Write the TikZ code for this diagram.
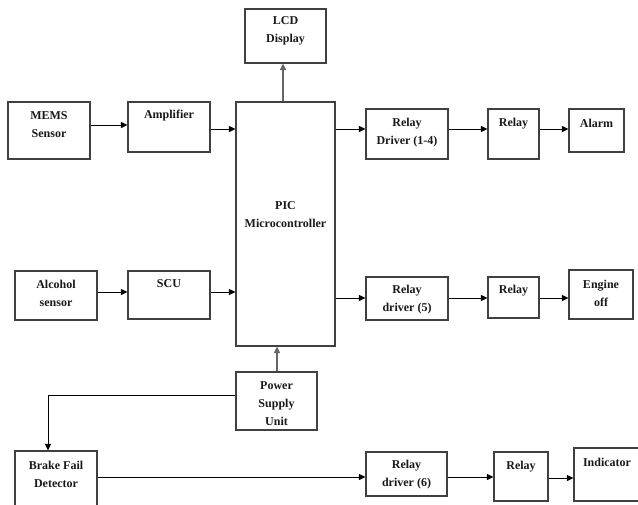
\documentclass[tikz,border=0pt]{standalone}
\usepackage{fontspec}
\setmainfont{Liberation Serif}
\usetikzlibrary{arrows.meta}
\tikzset{
  blk/.style={draw=black!75, line width=1.1pt, rectangle, inner sep=0pt},
  txt/.style={font=\fontsize{12}{18}\selectfont\bfseries, align=center, inner sep=0pt, text=black!90},
  arr/.style={draw=black, line width=0.9pt, -{Triangle[length=6.5pt,width=6pt]}},
  garr/.style={draw=black!60, line width=1.3pt, -{Triangle[length=6.5pt,width=6pt]}, shorten <=0.5pt},
  ln/.style={draw=black, line width=0.9pt}
}
\begin{document}
\begin{tikzpicture}[x=1pt,y=-1pt]
\useasboundingbox (0,0) rectangle (638,504);
\clip (0,0) rectangle (638,504);
\fill[white] (0,0) rectangle (638,504);
% boxes
\node[blk, minimum width=81pt, minimum height=54pt] (lcd) at (285.5,36) {};
\node[blk, minimum width=82pt, minimum height=57pt] (mems) at (49,130.5) {};
\node[blk, minimum width=82pt, minimum height=50pt] (amp) at (169,127) {};
\node[blk, minimum width=99pt, minimum height=244pt] (pic) at (285.5,224) {};
\node[blk, minimum width=82pt, minimum height=50pt] (rd14) at (407,134) {};
\node[blk, minimum width=51pt, minimum height=50pt] (rel1) at (513.5,134) {};
\node[blk, minimum width=55pt, minimum height=43pt] (alarm) at (596.5,130.5) {};
\node[blk, minimum width=82pt, minimum height=49pt] (alc) at (56,295.5) {};
\node[blk, minimum width=82pt, minimum height=48pt] (scu) at (169,295) {};
\node[blk, minimum width=82pt, minimum height=43pt] (rd5) at (407,298.5) {};
\node[blk, minimum width=51pt, minimum height=41pt] (rel2) at (513.5,297.5) {};
\node[blk, minimum width=64pt, minimum height=49pt] (eng) at (601,294.5) {};
\node[blk, minimum width=81pt, minimum height=58pt] (psu) at (276.5,401) {};
\node[blk, minimum width=82pt, minimum height=64pt] (brake) at (56,483) {};
\node[blk, minimum width=81pt, minimum height=44pt] (rd6) at (406.5,474) {};
\node[blk, minimum width=54pt, minimum height=49pt] (rel3) at (521,476.5) {};
\node[blk, minimum width=76pt, minimum height=53pt] (ind) at (612,474.5) {};
% texts
\node[txt] (lcdT) at (285.5,31) {LCD\\Display};
\node[txt] (memsT) at (49,124.5) {MEMS\\Sensor};
\node[txt] (ampT) at (169,115.5) {Amplifier};
\node[txt] (picT) at (285.5,215) {PIC\\Microcontroller};
\node[txt] (rd14T) at (407,132.5) {Relay\\Driver (1-4)};
\node[txt] (rel1T) at (513.5,123.5) {Relay};
\node[txt] (alarmT) at (596.5,123.5) {Alarm};
\node[txt] (alcT) at (56,293) {Alcohol\\sensor};
\node[txt] (scuT) at (169,283.5) {SCU};
\node[txt] (rd5T) at (407,300) {Relay\\driver (5)};
\node[txt] (rel2T) at (513.5,290.5) {Relay};
\node[txt] (engT) at (601,293) {Engine\\off};
\node[txt] (psuT) at (276.5,403.5) {Power\\Supply\\Unit};
\node[txt] (brakeT) at (56,474.5) {Brake Fail\\Detector};
\node[txt] (rd6T) at (406.5,474.5) {Relay\\driver (6)};
\node[txt] (rel3T) at (521,466.5) {Relay};
\node[txt] (indT) at (607,462.5) {Indicator};
% connectors
\draw[arr] (mems.east |- 0,125) -- (amp.west |- 0,125);
\draw[arr] (amp.east |- 0,129) -- (pic.west |- 0,129);
\draw[garr] (pic.north -| 283,0) -- (lcd.south -| 283,0);
\draw[arr] (pic.east |- 0,129) -- (rd14.west |- 0,129);
\draw[arr] (rd14.east |- 0,129) -- (rel1.west |- 0,129);
\draw[arr] (rel1.east |- 0,129) -- (alarm.west |- 0,129);
\draw[arr] (alc.east |- 0,292) -- (scu.west |- 0,292);
\draw[arr] (scu.east |- 0,292) -- (pic.west |- 0,292);
\draw[arr] (pic.east |- 0,298) -- (rd5.west |- 0,298);
\draw[arr] (rd5.east |- 0,298) -- (rel2.west |- 0,298);
\draw[arr] (rel2.east |- 0,298) -- (eng.west |- 0,298);
\draw[garr] (psu.north -| 277,0) -- (pic.south -| 277,0);
\draw[arr] (psu.west |- 0,395) -| (brake.north -| 48,0);
\draw[arr] (brake.east |- 0,477) -- (rd6.west |- 0,477);
\draw[arr] (rd6.east |- 0,477) -- (rel3.west |- 0,477);
\draw[arr] (rel3.east |- 0,478) -- (ind.west |- 0,478);
\end{tikzpicture}
\end{document}
